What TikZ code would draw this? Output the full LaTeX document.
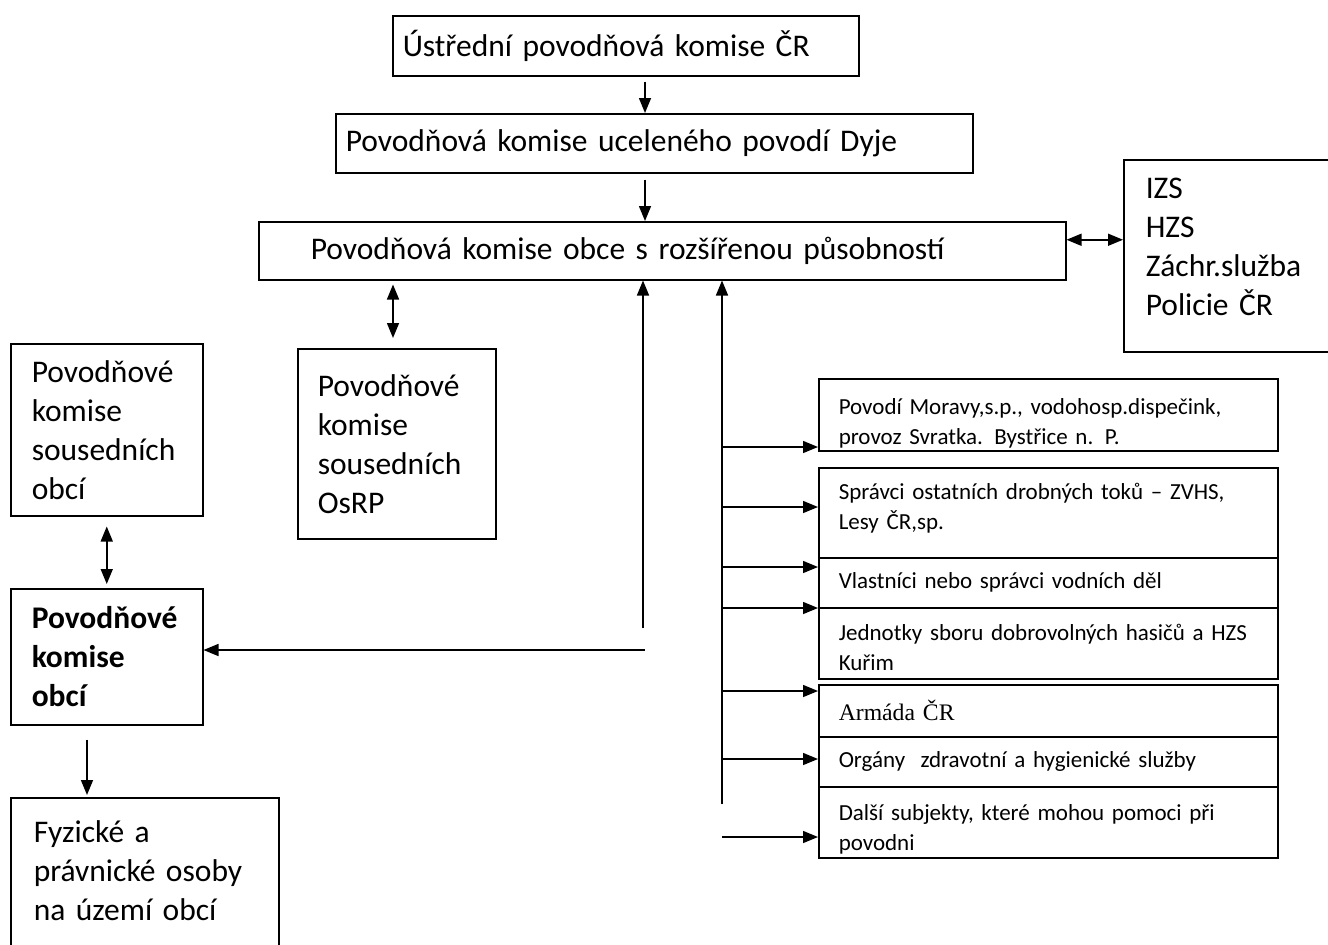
\documentclass[tikz,border=0pt]{standalone}
\usepackage{fontspec}
\setmainfont{Carlito}
\newfontfamily\timesfont{Liberation Serif}
\usetikzlibrary{arrows.meta}

\begin{document}
\begin{tikzpicture}[x=1pt, y=-1pt, line width=1.5pt,
        >={Triangle[length=15pt,width=12pt]},
        box/.style={draw, fill=white, anchor=north west, align=left, inner ysep=0pt},
        bigtxt/.style={font=\fontsize{31.5}{39}\selectfont},
        smalltxt/.style={font=\fontsize{23}{30}\selectfont}]
        \useasboundingbox (0,0) rectangle (1328,945);
        \clip (0,0) rectangle (1328,945);
        \begin{scope}[every node/.style={box, bigtxt}]
            \node[minimum width=466pt, minimum height=60pt, inner xsep=10pt, text width=446pt] (ustr) at (392,15) {Ústřední povodňová komise ČR};
            \node[minimum width=637pt, minimum height=59pt, inner xsep=10pt, text width=617pt] (dyje) at (335,113) {Povodňová komise uceleného povodí Dyje};
            \node[minimum width=807pt, minimum height=58pt, inner xsep=52pt, text width=703pt] (orp) at (258,221) {Povodňová komise obce s rozšířenou působností};
            \node[minimum width=240pt, minimum height=192pt, inner xsep=22pt, text width=196pt] (izs) at (1123,159) {IZS\\ HZS\\ Záchr.služba\\ Policie ČR\rule[-18pt]{0pt}{1pt}};
            \node[minimum width=198pt, minimum height=190pt, inner xsep=20pt, text width=158pt] (osrp) at (297,348) {Povodňové\\ komise\\ sousedních\\ OsRP};
            \node[minimum width=192pt, minimum height=172pt, inner xsep=21pt, text width=150pt] (soused) at (10,343) {Povodňové\\ komise\\ sousedních\\ obcí};
            \node[minimum width=192pt, minimum height=136pt, inner xsep=21pt, text width=150pt] (obce) at (10,588) {\bfseries Povodňové\\ \bfseries komise\\ \bfseries obcí};
            \node[minimum width=268pt, minimum height=184pt, inner xsep=23pt, text width=222pt] (fyz) at (10,797) {Fyzické a\\ právnické osoby\\ na území obcí\\ \mbox{}};
        \end{scope}
        \begin{scope}[every node/.style={box, smalltxt, minimum width=459pt, inner xsep=20pt, text width=419pt}]
            \node[minimum height=72pt] (povodi) at (818,378) {\rule{0pt}{33pt}Povodí Moravy,s.p., vodohosp.dispečink,\\ provoz Svratka. Bystřice n. P.};
            \node[minimum height=108pt] (spravci) at (818,467) {Správci ostatních drobných toků – ZVHS,\\ Lesy ČR,sp.\\ \mbox{}};
            \node[minimum height=50pt] (vlast) at (818,557) {Vlastníci nebo správci vodních děl};
            \node[minimum height=71pt] (jedn) at (818,607) {\rule{0pt}{25pt}\mbox{Jednotky sboru dobrovolných hasičů a HZS}\\ Kuřim};
            \node[minimum height=52pt, font=\timesfont\fontsize{23.7}{30}\selectfont] (armada) at (818,684) {Armáda ČR};
            \node[minimum height=50pt] (organy) at (818,736) {Orgány~ zdravotní a hygienické služby};
            \node[minimum height=71pt] (dalsi) at (818,786) {\rule{0pt}{31pt}Další subjekty, které mohou pomoci při\\ povodni};
        \end{scope}
        \begin{scope}
            \coordinate (xm) at (645,0);
            \coordinate (xo) at (393,0);
            \coordinate (xf) at (87,0);
            \coordinate (lt) at (643,628);
            \coordinate (lh) at (645,650);
            \coordinate (rt) at (722,804);
            \coordinate (b1) at (722,447);
            \coordinate (b2) at (722,507);
            \coordinate (b3) at (722,567);
            \coordinate (b4) at (722,608);
            \coordinate (b5) at (722,691);
            \coordinate (b6) at (722,759);
            \coordinate (b7) at (722,837);
            \path [->] ([yshift=-5pt]ustr.south -| xm) edge (dyje.north -| xm);
            \path [->] ([yshift=-6pt]dyje.south -| xm) edge (orp.north -| xm);
            \path [<->] ([yshift=11pt]orp.east) edge ([yshift=11pt]orp.east -| izs.west);
            \path [<->] ([yshift=-4pt]orp.south -| xo) edge ([yshift=10pt]osrp.north -| xo);
            \path [<->] ([yshift=-10pt]soused.south) edge ([yshift=4pt]obce.north);
            \path [->] ([yshift=-14pt]obce.south -| xf) edge ([yshift=2pt]fyz.north -| xf);
            \path [->] (lt) edge (orp.south -| lt);
            \path [->] (lh) edge (obce.east |- lh);
            \path [->] (rt) edge (orp.south -| rt);
            \path [->] (b1) edge (b1 -| povodi.west);
            \path [->] (b2) edge (b2 -| spravci.west);
            \path [->] (b3) edge (b3 -| vlast.west);
            \path [->] (b4) edge (b4 -| jedn.west);
            \path [->] (b5) edge (b5 -| armada.west);
            \path [->] (b6) edge (b6 -| organy.west);
            \path [->] (b7) edge (b7 -| dalsi.west);
        \end{scope}
    \end{tikzpicture}
\end{document}
